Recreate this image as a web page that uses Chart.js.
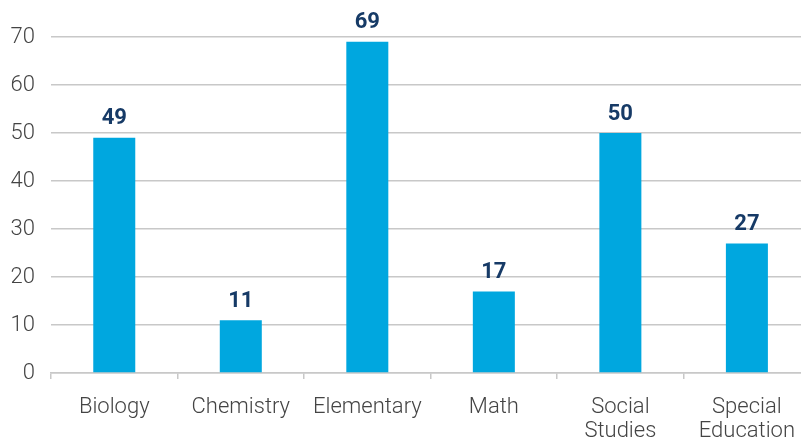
<!DOCTYPE html>
<html>
<head>
<meta charset="utf-8">
<script src="https://cdn.jsdelivr.net/npm/chart.js@4.4.0/dist/chart.umd.min.js"></script>
<style>
  html, body { margin: 0; padding: 0; background: #fff; overflow: hidden; }
  #wrap { width: 801px; height: 438px; overflow: hidden; }
</style>
</head>
<body>
<div id="wrap"><canvas id="grafico1" width="811" height="438"></canvas></div>
<script>
// categories and values
var categorias = ["Biology", "Chemistry", "Elementary", "Math", ["Social", "Studies"], ["Special", "Education"]];
var valores = [49, 11, 69, 17, 50, 27];
var ticksY = [0, 10, 20, 30, 40, 50, 60, 70];

// small plugin that writes the value above each bar
var etiquetas = {
	id: 'etiquetas',
	afterDatasetsDraw: function(chart) {
		var ctx = chart.ctx;
		var meta = chart.getDatasetMeta(0);
		ctx.save();
		ctx.fillStyle = '#163a66';
		ctx.font = 'bold 22px Roboto';
		ctx.textAlign = 'center';
		ctx.textBaseline = 'bottom';
		meta.data.forEach(function(bar, i) {
			ctx.fillText(valores[i], bar.x, bar.y - 8);
		});
		ctx.restore();
	}
};

const ctx = document.getElementById("grafico1").getContext('2d');
window.grafica = new Chart(ctx, {
	type: 'bar',
	data: {
		labels: categorias,
		datasets: [{
			data: valores,
			backgroundColor: '#00a7df',
			barPercentage: 1,
			categoryPercentage: 0.332
		}]
	},
	options: {
		responsive: false,
		animation: false,
		layout: { padding: { top: 37, right: 0, left: 0, bottom: 0 } },
		plugins: {
			legend: { display: false },
			tooltip: { enabled: false }
		},
		scales: {
			x: {
				grid: { display: true, drawOnChartArea: false, drawTicks: true, tickLength: 6, color: '#c8c8c8', lineWidth: 1.5 },
				border: { display: true, color: '#c8c8c8', width: 1.5 },
				ticks: { color: '#444', font: { family: 'Roboto', size: 22, weight: 300, lineHeight: 1.1 }, padding: 16, maxRotation: 0, autoSkip: false },
				afterFit: function(scale) { scale.height = 65; }
			},
			y: {
				min: 0,
				max: 70,
				afterBuildTicks: function(scale) { scale.ticks = ticksY.map(function(v) { return { value: v }; }); },
				grid: { color: '#c8c8c8', lineWidth: 1.5, drawTicks: false },
				border: { display: false },
				ticks: { color: '#444', font: { family: 'Roboto', size: 22, weight: 300 }, padding: 16 },
				afterFit: function(scale) { scale.width = 51; }
			}
		}
	},
	plugins: [etiquetas]
});
</script>
</body>
</html>
